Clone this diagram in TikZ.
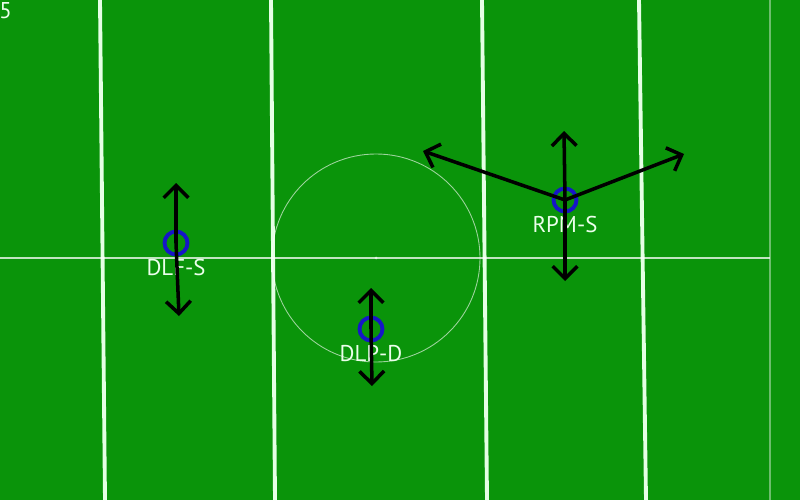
\documentclass[tikz,border=0pt]{standalone}
\usepackage{fontspec}
\setmainfont{PT Sans}
\usetikzlibrary{arrows.meta}
\definecolor{pitch}{RGB}{10,148,10}
\definecolor{kit}{RGB}{22,22,200}
\tikzset{
  player/.style = {circle, draw=kit, line width=2.2pt, minimum size=0.46cm, inner sep=0pt},
  role/.style = {text=white!92!green, font=\fontsize{13}{13}\selectfont, inner sep=0pt},
  run/.style = {-{Straight Barb[length=7pt, width=14pt]}, line width=2pt, black},
  touchline/.style = {white!90!green, line width=2.2pt},
  thinline/.style = {white, line width=0.8pt, opacity=0.75}
}
\begin{document}
\begin{tikzpicture}[x=0.02cm, y=-0.02cm]
    \fill[pitch] (0, 0) rectangle (800, 500);
    \useasboundingbox (0, 0) rectangle (800, 500);

    % pitch markings
    \draw[touchline] (100, 0) -- (105, 500);
    \draw[touchline] (271, 0) -- (275, 500);
    \draw[touchline] (482, 0) -- (487, 500);
    \draw[touchline] (639, 0) -- (646, 500);
    \draw[thinline, opacity=0.4] (770, 0) -- (770, 500);
    \draw[thinline] (0, 258) -- (770, 258);
    \draw[thinline, line width=0.5pt, opacity=0.6] (376, 258) circle[radius=104];
    \fill[white, opacity=0.6] (376, 258) circle[radius=1.5];
    \node[role, anchor=west] (page) at (-1, 11) {5};

    % roles
    \node[role] (dlfsname) at (176, 268) {DLF-S};
    \node[role] (dlpdname) at (371, 354) {DLP-D};
    \node[role] (rpmsname) at (565, 225) {RPM-S};

    % players
    \node[player] (dlfs) at (176, 243) {};
    \node[player] (dlpd) at (371, 329) {};
    \node[player] (rpms) at (565, 200) {};

    % runs
    \coordinate (dlfsup) at (176, 183);
    \coordinate (dlfsdown) at (179, 316);
    \coordinate (dlpdup) at (371, 288);
    \coordinate (dlpddown) at (372, 386);
    \coordinate (rpmsup) at (564, 131);
    \coordinate (rpmsdown) at (565, 281);
    \coordinate (rpmsleft) at (423, 151);
    \coordinate (rpmsright) at (684, 154);

    \draw[run] (dlfs.center) -- (dlfsup);
    \draw[run] (dlfs.center) -- (dlfsdown);
    \draw[run] (dlpd.center) -- (dlpdup);
    \draw[run] (dlpd.center) -- (dlpddown);
    \draw[run] (rpms.center) -- (rpmsup);
    \draw[run] (rpms.center) -- (rpmsdown);
    \draw[run] (rpms.center) -- (rpmsleft);
    \draw[run] (rpms.center) -- (rpmsright);
\end{tikzpicture}
\end{document}
